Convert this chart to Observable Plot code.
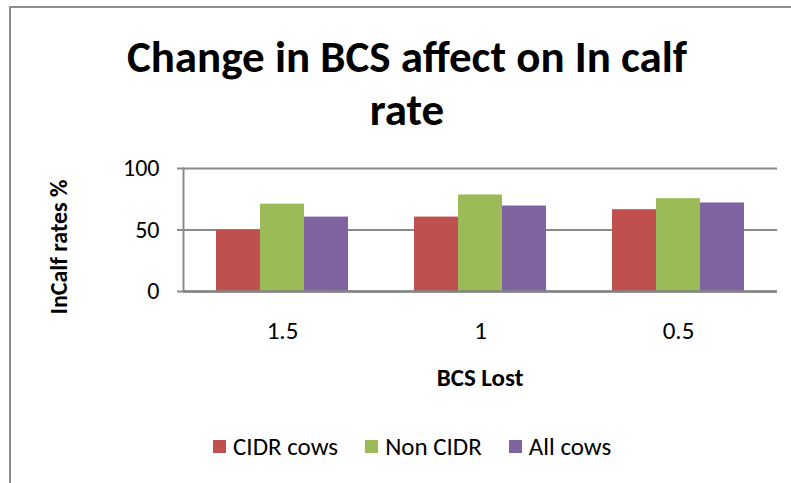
<!DOCTYPE html>
<html>
<head>
<meta charset="utf-8">
<script src="https://cdn.jsdelivr.net/npm/d3@7"></script>
<script src="https://cdn.jsdelivr.net/npm/@observablehq/plot@0.6"></script>
<style>
  html, body { margin: 0; padding: 0; background: #fff; }
  #chart { position: relative; width: 791px; height: 483px; overflow: hidden; font-family: Carlito, Lato, sans-serif; color: #000; }
  #frame { position: absolute; left: 9px; top: 6px; width: 790px; height: 490px; border-left: 2px solid #8c8c8c; border-top: 2px solid #8c8c8c; }
  #title { position: absolute; left: 407px; top: 30px; transform: translateX(-50%); text-align: center; white-space: nowrap;
           font-weight: bold; font-size: 45px; line-height: 53px; }
  #plot { position: absolute; left: 0; top: 150px; }
  #ylabel { position: absolute; left: 58px; top: 247px; transform: translate(-50%, -50%) rotate(-90deg); white-space: nowrap;
            font-weight: bold; font-size: 24px; }
  #xlabel { position: absolute; left: 480px; top: 365px; transform: translateX(-50%); white-space: nowrap;
            font-weight: bold; font-size: 25px; line-height: 25px; }
  #legend { position: absolute; left: 213px; top: 430px; }
  .lg-swatch { margin-right: 27px !important; }
  .lg-swatch > svg { margin-right: 7px !important; }
</style>
</head>
<body>
<div id="chart">
  <div id="frame"></div>
  <div id="title">Change in BCS affect on In calf<br>rate</div>
  <div id="plot"></div>
  <div id="ylabel">InCalf rates %</div>
  <div id="xlabel">BCS Lost</div>
  <div id="legend"></div>
</div>
<script>
// BCS lost (categories along the bottom) and the three cow groups
const categories = ["1.5", "1", "0.5"];
const series = ["CIDR cows", "Non CIDR", "All cows"];

// In-calf rate (%) for each group, one value per BCS-lost category
const cidrCows = [50, 60.5, 66.5];
const nonCidr = [71, 78.5, 75.5];
const allCows = [60.5, 69.5, 72];

const yTicks = [0, 50, 100];
const colors = ["#C0504D", "#9BBB59", "#8064A2"];

const valuesBySeries = [cidrCows, nonCidr, allCows];
const rows = categories.flatMap((bcs, i) =>
  series.map((group, s) => ({ bcs, group, rate: valuesBySeries[s][i] }))
);

const gray = "#8a8a8a";

const chart = Plot.plot({
  width: 791,
  height: 200,
  marginLeft: 182,
  marginRight: 13,
  marginTop: 18,
  marginBottom: 59,
  style: { fontFamily: "Carlito, Lato, sans-serif", fontSize: "24px", color: "#000", background: "transparent", overflow: "visible" },
  fx: { domain: categories, padding: 0, label: null },
  x: { domain: series, paddingInner: 0, paddingOuter: 0.75, axis: null },
  y: { domain: [0, 100], axis: null },
  color: { domain: series, range: colors },
  marks: [
    Plot.gridY(yTicks, { stroke: gray, strokeOpacity: 1, strokeWidth: 2 }),
    Plot.barY(rows, { fx: "bcs", x: "group", y: "rate", fill: "group" }),
    Plot.ruleY([0], { stroke: "#858585", strokeWidth: 2.5 }),
    Plot.axisY(yTicks, { anchor: "left", tickSize: 6, tickPadding: 18, stroke: gray, strokeWidth: 2, fill: "#000", fontSize: 24, label: null, facetAnchor: "left" }),
    Plot.frame({ anchor: "left", facetAnchor: "left", stroke: gray, strokeWidth: 2 }),
    Plot.axisFx({ anchor: "bottom", tickSize: 0, tickPadding: 30, fontSize: 25, label: null, fill: "#000" })
  ]
});
document.getElementById("plot").appendChild(chart);

const legend = Plot.legend({
  color: { type: "categorical", domain: series, range: colors },
  swatchSize: 13,
  className: "lg",
  style: { fontFamily: "Carlito, Lato, sans-serif", fontSize: "25px", color: "#000" }
});
document.getElementById("legend").appendChild(legend);
</script>
</body>
</html>
